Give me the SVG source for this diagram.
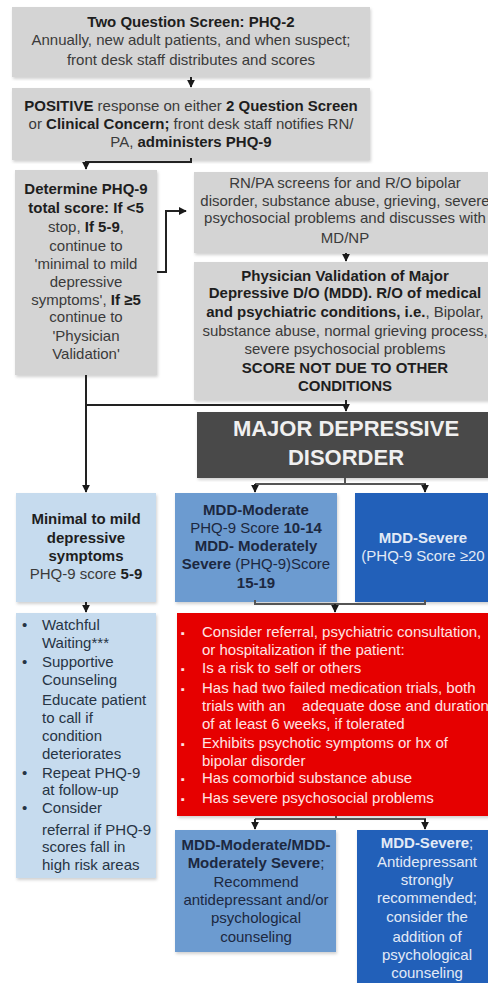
<svg xmlns="http://www.w3.org/2000/svg" width="488" height="983" viewBox="0 0 488 983">
<defs>
<marker id="ah" viewBox="0 0 10 10" refX="9" refY="5" markerWidth="8" markerHeight="8" markerUnits="userSpaceOnUse" orient="auto">
<path d="M0,0 L10,5 L0,10 z" fill="#1a1a1a"/>
</marker>
<filter id="sh" x="-5%" y="-5%" width="110%" height="110%">
<feDropShadow dx="1" dy="2" stdDeviation="1.5" flood-color="#000" flood-opacity="0.18"/>
</filter>
</defs>
<style>
text{font-family:"Liberation Sans",Arial,sans-serif;font-size:15px;text-anchor:middle}
.b{font-weight:bold}
.gray{fill:#d4d4d4;filter:url(#sh)}
.tg{fill:#3a3a3a}
.tgb{fill:#1e1e1e}
.lb{fill:#c6dbee;filter:url(#sh)}
.mb{fill:#6c9bd0;filter:url(#sh)}
.db{fill:#2160b9;filter:url(#sh)}
.tn{fill:#1c2840}
.tw{fill:#e2eaf6}
.tr{fill:#ffe4e4;text-anchor:start}
.tl{fill:#263444;text-anchor:start}
.c{fill:none;stroke:#222;stroke-width:2}
.c2{fill:none;stroke:#555;stroke-width:2}
</style>
<rect width="488" height="983" fill="#ffffff"/>

<g id="phq2">
<rect class="gray" x="12" y="7" width="358" height="70"/>
<text x="191" y="27" class="b tgb">Two Question Screen: PHQ-2</text>
<text x="191" y="45" class="tg">Annually, new adult patients, and when suspect;</text>
<text x="191" y="65" class="tg">front desk staff distributes and scores</text>
</g>

<g id="positive">
<rect class="gray" x="12" y="88" width="358" height="72"/>
<text x="191" y="111" class="tg"><tspan class="b tgb">POSITIVE</tspan> response on either <tspan class="b tgb">2 Question Screen</tspan></text>
<text x="191" y="129" class="tg">or <tspan class="b tgb">Clinical Concern;</tspan> front desk staff notifies RN/</text>
<text x="191" y="147" class="tg">PA, <tspan class="b tgb">administers PHQ-9</tspan></text>
</g>

<g id="determine">
<rect class="gray" x="15" y="170" width="142" height="205"/>
<text x="86" y="194" class="b tgb">Determine PHQ-9</text>
<text x="86" y="213" class="b tgb">total score: If &lt;5</text>
<text x="86" y="232" class="tg">stop, <tspan class="b tgb">If 5-9</tspan>,</text>
<text x="86" y="251" class="tg">continue to</text>
<text x="86" y="269" class="tg">'minimal to mild</text>
<text x="86" y="287" class="tg">depressive</text>
<text x="86" y="305" class="tg">symptoms', <tspan class="b tgb">If ≥5</tspan></text>
<text x="86" y="322" class="tg">continue to</text>
<text x="86" y="341" class="tg">'Physician</text>
<text x="86" y="359" class="tg">Validation'</text>
</g>

<g id="rnpa">
<rect class="gray" x="194" y="172" width="302" height="81"/>
<text x="345" y="188" class="tg">RN/PA screens for and R/O bipolar</text>
<text x="345" y="206" class="tg">disorder, substance abuse, grieving, severe</text>
<text x="345" y="223" class="tg">psychosocial problems and discusses with</text>
<text x="345" y="243" class="tg">MD/NP</text>
</g>

<g id="validation">
<rect class="gray" x="194" y="262" width="302" height="138"/>
<text x="345" y="281" class="b tgb">Physician Validation of Major</text>
<text x="345" y="298" class="b tgb">Depressive D/O (MDD). R/O of medical</text>
<text x="345" y="317" class="tg"><tspan class="b tgb">and psychiatric conditions, i.e.</tspan>, Bipolar,</text>
<text x="345" y="336" class="tg">substance abuse, normal grieving process,</text>
<text x="345" y="354" class="tg">severe psychosocial problems</text>
<text x="345" y="373" class="b tgb">SCORE NOT DUE TO OTHER</text>
<text x="345" y="391" class="b tgb">CONDITIONS</text>
</g>

<g id="mdd">
<rect x="197" y="412" width="298" height="66" fill="#4a4a4a" filter="url(#sh)"/>
<text x="346" y="436" class="b" style="font-size:22px" fill="#f0f0f0">MAJOR DEPRESSIVE</text>
<text x="346" y="465" class="b" style="font-size:22px" fill="#f0f0f0">DISORDER</text>
</g>

<g id="minimal">
<rect class="lb" x="16" y="493" width="140" height="109"/>
<text x="86" y="524" class="b tgb">Minimal to mild</text>
<text x="86" y="543" class="b tgb">depressive</text>
<text x="86" y="561" class="b tgb">symptoms</text>
<text x="86" y="579" class="tg">PHQ-9 score <tspan class="b tgb">5-9</tspan></text>
</g>

<g id="moderate">
<rect class="mb" x="175" y="493" width="162" height="109"/>
<text x="256" y="515" class="b tn">MDD-Moderate</text>
<text x="256" y="533" class="tn">PHQ-9 Score <tspan class="b">10-14</tspan></text>
<text x="256" y="551" class="b tn">MDD- Moderately</text>
<text x="256" y="569" class="tn"><tspan class="b">Severe</tspan> (PHQ-9)Score</text>
<text x="256" y="588" class="b tn">15-19</text>
</g>

<g id="severe">
<rect class="db" x="355" y="493" width="136" height="109"/>
<text x="423" y="543" class="b tw">MDD-Severe</text>
<text x="423" y="561" class="tw">(PHQ-9 Score ≥20</text>
</g>

<g id="watchful">
<rect class="lb" x="16" y="613" width="140" height="265"/>
<text x="22" y="630" class="tl">•</text>
<text x="42" y="630" class="tl">Watchful</text>
<text x="42" y="648" class="tl">Waiting***</text>
<text x="22" y="667" class="tl">•</text>
<text x="42" y="667" class="tl">Supportive</text>
<text x="42" y="685" class="tl">Counseling</text>
<text x="42" y="705" class="tl">Educate patient</text>
<text x="42" y="723" class="tl">to call if</text>
<text x="42" y="741" class="tl">condition</text>
<text x="42" y="759" class="tl">deteriorates</text>
<text x="22" y="778" class="tl">•</text>
<text x="42" y="778" class="tl">Repeat PHQ-9</text>
<text x="42" y="795" class="tl">at follow-up</text>
<text x="22" y="813" class="tl">•</text>
<text x="42" y="813" class="tl">Consider</text>
<text x="42" y="835" class="tl">referral if PHQ-9</text>
<text x="42" y="852" class="tl">scores fall in</text>
<text x="42" y="870" class="tl">high risk areas</text>
</g>

<g id="referral">
<rect x="177" y="613" width="320" height="203" fill="#e60000" filter="url(#sh)"/>
<text x="181" y="637" class="tr" style="font-size:11px">▪</text>
<text x="202" y="637" class="tr">Consider referral, psychiatric consultation,</text>
<text x="202" y="655" class="tr">or hospitalization if the patient:</text>
<text x="181" y="673" class="tr" style="font-size:11px">▪</text>
<text x="202" y="673" class="tr">Is a risk to self or others</text>
<text x="181" y="693" class="tr" style="font-size:11px">▪</text>
<text x="202" y="693" class="tr">Has had two failed medication trials, both</text>
<text x="202" y="711" class="tr" xml:space="preserve">trials with an    adequate dose and duration</text>
<text x="202" y="729" class="tr">of at least 6 weeks, if tolerated</text>
<text x="181" y="748" class="tr" style="font-size:11px">▪</text>
<text x="202" y="748" class="tr">Exhibits psychotic symptoms or hx of</text>
<text x="202" y="766" class="tr">bipolar disorder</text>
<text x="181" y="783" class="tr" style="font-size:11px">▪</text>
<text x="202" y="783" class="tr">Has comorbid substance abuse</text>
<text x="181" y="803" class="tr" style="font-size:11px">▪</text>
<text x="202" y="803" class="tr">Has severe psychosocial problems</text>
</g>

<g id="moderate-tx">
<rect class="mb" x="175" y="830" width="161" height="122"/>
<text x="256" y="850" class="b tn">MDD-Moderate/MDD-</text>
<text x="256" y="868" class="tn"><tspan class="b">Moderately Severe</tspan>;</text>
<text x="256" y="887" class="tn">Recommend</text>
<text x="256" y="905" class="tn">antidepressant and/or</text>
<text x="256" y="923" class="tn">psychological</text>
<text x="256" y="942" class="tn">counseling</text>
</g>

<g id="severe-tx">
<rect class="db" x="357" y="830" width="140" height="160"/>
<text x="427" y="848" class="tw"><tspan class="b">MDD-Severe</tspan>;</text>
<text x="427" y="867" class="tw">Antidepressant</text>
<text x="427" y="885" class="tw">strongly</text>
<text x="427" y="903" class="tw">recommended;</text>
<text x="427" y="922" class="tw">consider the</text>
<text x="427" y="942" class="tw">addition of</text>
<text x="427" y="960" class="tw">psychological</text>
<text x="427" y="978" class="tw">counseling</text>
</g>

<g id="connectors">
<path class="c" d="M191,77 V87" marker-end="url(#ah)"/>
<path class="c" d="M191,158 V162 H86 V169" marker-end="url(#ah)"/>
<path class="c" d="M157,272 H166 V211 H186" marker-end="url(#ah)"/>
<path class="c" d="M346,253 V261" marker-end="url(#ah)"/>
<path class="c" d="M86,375 V492" marker-end="url(#ah)"/>
<path class="c" d="M86,405 H346"/>
<path class="c" d="M346,400 V411" marker-end="url(#ah)"/>
<path class="c2" d="M345,478 V484 M255,484 H426"/>
<path class="c" d="M255,484 V492" marker-end="url(#ah)"/>
<path class="c" d="M425,484 V492" marker-end="url(#ah)"/>
<path class="c" d="M86,602 V612" marker-end="url(#ah)"/>
<path class="c2" d="M255,600 V604 H425 V600"/>
<path class="c" d="M335,604 V612" marker-end="url(#ah)"/>
<path class="c2" d="M336,816 V819 M255,819 H426"/>
<path class="c" d="M255,819 V829" marker-end="url(#ah)"/>
<path class="c" d="M425,819 V829" marker-end="url(#ah)"/>
</g>
</svg>
